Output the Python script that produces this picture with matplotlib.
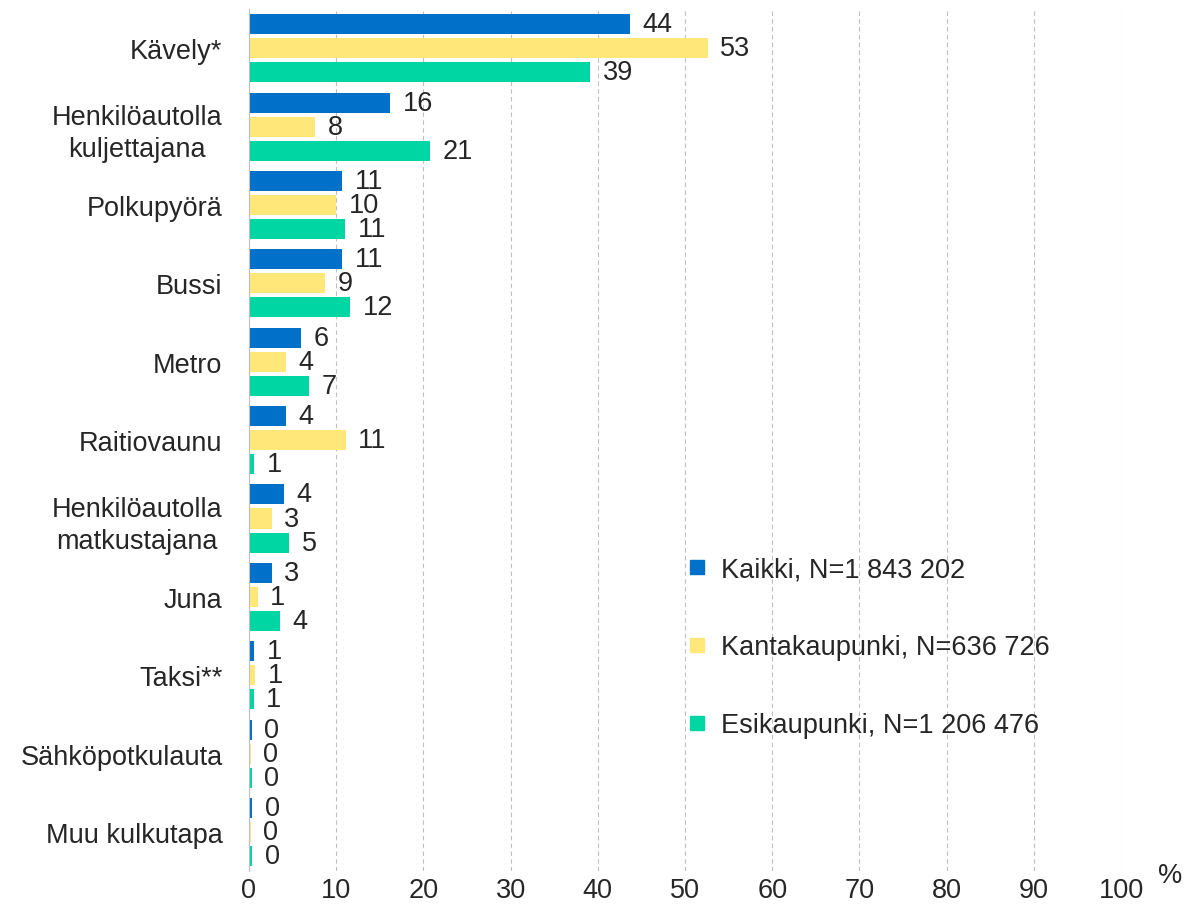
import numpy as np
import matplotlib.pyplot as plt

plt.rcParams['font.family'] = ['Liberation Sans', 'DejaVu Sans']

categories = ['Kävely*', 'Henkilöautolla\nkuljettajana', 'Polkupyörä', 'Bussi', 'Metro',
              'Raitiovaunu', 'Henkilöautolla\nmatkustajana', 'Juna', 'Taksi**',
              'Sähköpotkulauta', 'Muu kulkutapa']
kaikki = [43.7, 16.2, 10.7, 10.7, 6.0, 4.2, 4.0, 2.6, 0.6, 0.3, 0.4]
kanta = [52.6, 7.6, 10.0, 8.7, 4.2, 11.1, 2.6, 1.0, 0.7, 0.2, 0.2]
esi = [39.1, 20.8, 11.0, 11.6, 6.9, 0.6, 4.6, 3.6, 0.55, 0.3, 0.4]
series_names = ['Kaikki, N=1 843 202', 'Kantakaupunki, N=636 726', 'Esikaupunki, N=1 206 476']
colors = ['#0070C8', '#FFE77A', '#00D6A4']
text_color = '#262626'
fs = 19.5

fig = plt.figure(figsize=(12.01, 9.2), dpi=100)
ax = fig.add_axes([0.2073, 0.052, 0.7262, 0.937])

y = np.arange(len(categories))
h = 0.256
off = 0.307
for i, (vals, c, name) in enumerate(zip([kaikki, kanta, esi], colors, series_names)):
    bars = ax.barh(y + (i - 1) * off, vals, height=h, color=c, label=name, zorder=3)
    ax.bar_label(bars, labels=['%.0f' % v for v in vals], padding=9,
                 fontsize=fs, color=text_color)

ax.set_xlim(0, 100)
ax.set_ylim(10.5, -0.5)
ax.set_xticks(np.arange(0, 101, 10))
ax.set_yticks(y)
ax.set_yticklabels(categories)
for lbl in ax.get_yticklabels():
    lbl.set_multialignment('center')
    lbl.set_linespacing(1.3)
ax.tick_params(axis='both', length=0, labelsize=fs, colors=text_color)
ax.tick_params(axis='y', pad=19)
ax.tick_params(axis='x', pad=4)
ax.grid(axis='x', color='#BFBFBF', linestyle=(0, (4, 3)), linewidth=0.8, zorder=0)
for s in ['top', 'right', 'bottom']:
    ax.spines[s].set_visible(False)
ax.spines['left'].set_color('#BFBFBF')
ax.spines['left'].set_zorder(4)

fig.text(1170 / 1201, 1 - 876 / 920, '%', fontsize=fs, color=text_color,
         ha='center', va='center')

handles = [plt.Line2D([], [], marker='s', linestyle='none', markersize=10,
                      markerfacecolor=c, markeredgecolor=c) for c in colors]
ax.legend(handles, series_names, loc='upper left', bbox_to_anchor=(656 / 1201, 1 - 533 / 920),
          bbox_transform=fig.transFigure, frameon=False, fontsize=fs,
          labelspacing=1.92, handletextpad=0.3, handlelength=1.2, labelcolor=text_color)

fig.savefig('out.png', dpi=100, facecolor='white')
